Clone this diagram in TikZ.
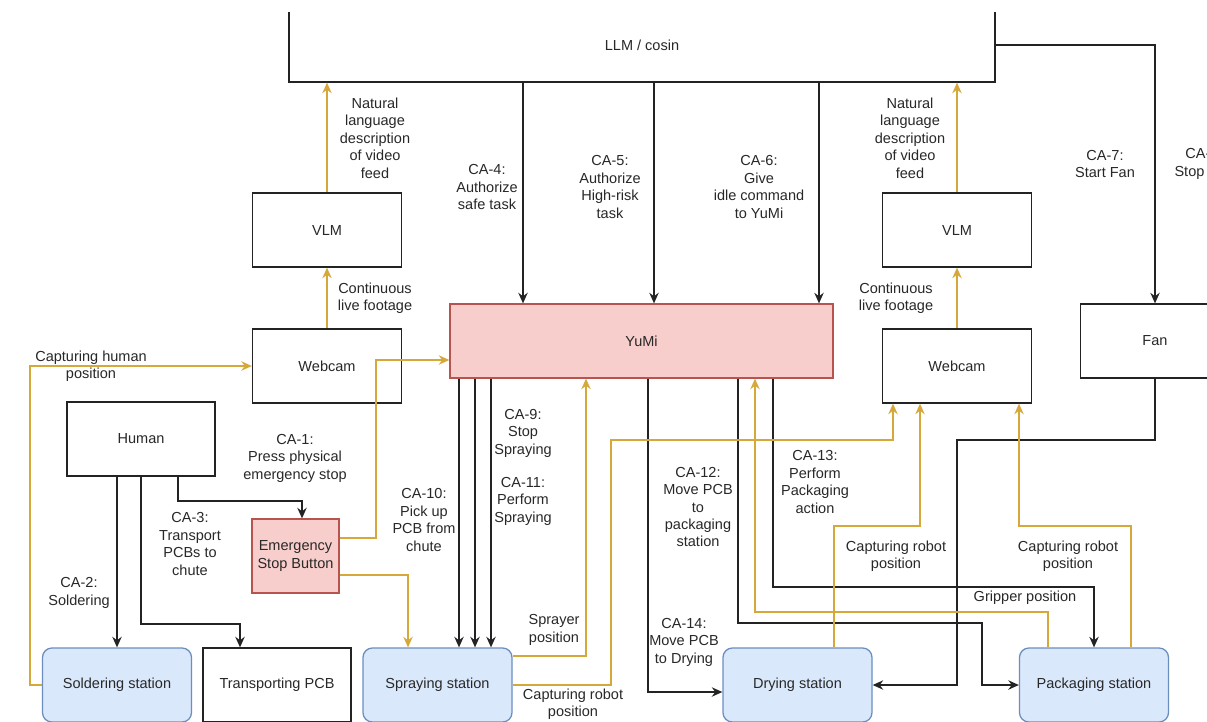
\documentclass[tikz,border=0pt]{standalone}
\usepackage{fontspec}
\setmainfont{Liberation Sans}
\usetikzlibrary{arrows.meta}
\definecolor{ln}{RGB}{35,35,35}
\definecolor{org}{RGB}{214,168,58}
\definecolor{pinkf}{HTML}{F8CECC}
\definecolor{pinkd}{HTML}{B85450}
\definecolor{bluef}{HTML}{DAE8FC}
\definecolor{blued}{HTML}{6C8EBF}
\definecolor{txt}{RGB}{40,40,40}
\begin{document}
\begin{tikzpicture}[x=0.03cm,y=-0.03cm,
  every node/.style={font=\fontsize{12.4}{14.9}\selectfont, text=txt},
  box/.style={draw=ln, line width=1.1pt, minimum width=4.47cm, minimum height=2.22cm, inner sep=0pt, fill=white},
  redbox/.style={box, fill=pinkf, draw=pinkd},
  station/.style={box, fill=bluef, draw=blued, rounded corners=8pt},
  lbl/.style={align=center, inner sep=0pt},
  blk/.style={draw=ln, line width=1.1pt, -{Stealth[length=9pt,width=8pt]}},
  ylw/.style={draw=org, line width=1.1pt, -{Stealth[length=9pt,width=8pt]}},
]
\useasboundingbox (0,0) rectangle (1207,721);
\fill[white] (0,0) rectangle (1207,721);
\clip (0,12) rectangle (1207,721);

% nodes
\node[box, minimum width=21.18cm] (llm) at (642,45) {LLM / cosin};
\node[box] (vlmL) at (327,230) {VLM};
\node[box] (camL) at (327,366) {Webcam};
\node[box] (vlmR) at (957,230) {VLM};
\node[box] (camR) at (957,366) {Webcam};
\node[redbox, minimum width=11.49cm] (yumi) at (641.5,341) {YuMi};
\node[box] (fan) at (1155,341) {Fan};
\node[box, minimum width=4.44cm] (human) at (141,439) {Human};
\node[redbox, minimum width=2.61cm, align=center] (estop) at (295.5,556) {Emergency\\Stop Button};
\node[station] (solder) at (117,685) {Soldering station};
\node[box, minimum width=4.44cm] (transp) at (277,685) {Transporting PCB};
\node[station] (spray) at (437.5,685) {Spraying station};
\node[station] (dry) at (797.5,685) {Drying station};
\node[station] (pack) at (1094,685) {Packaging station};

% black connectors
\draw[blk] (llm.south -| 523,0) -- (yumi.north -| 523,0);
\draw[blk] (llm.south -| 654,0) -- (yumi.north -| 654,0);
\draw[blk] (llm.south -| 819,0) -- (yumi.north -| 819,0);
\draw[blk] (llm.east) -| (fan.north);
\draw[blk] (human.south -| solder.north) -- (solder.north);
\draw[blk] (human.south) -- (141,624) -| (transp.north -| 240,0);
\draw[blk] (human.south -| 178,0) -- (178,501) -| (estop.north -| 302,0);
\draw[blk] (yumi.south -| 459,0) -- (spray.north -| 459,0);
\draw[blk] (yumi.south -| 475,0) -- (spray.north -| 475,0);
\draw[blk] (yumi.south -| 491,0) -- (spray.north -| 491,0);
\draw[blk] (yumi.south -| 648,0) |- (dry.west |- 0,692);
\draw[blk] (yumi.south -| 738,0) |- (982,623) |- (pack.west);
\draw[blk] (yumi.south -| 773,0) |- (pack.north |- 0,587) -- (pack.north);
\draw[blk] (fan.south) |- (957,440) |- (dry.east);

% yellow connectors
\draw[ylw] (vlmL.north) -- (llm.south -| vlmL.north);
\draw[ylw] (camL.north) -- (vlmL.south);
\draw[ylw] (vlmR.north) -- (llm.south -| vlmR.north);
\draw[ylw] (camR.north) -- (vlmR.south);
\draw[ylw] (solder.west) -- (30,685) |- (camL.west);
\draw[ylw] (estop.east |- 0,538) -- (376,538) |- (yumi.west |- 0,360);
\draw[ylw] (estop.east |- 0,575) -| (spray.north -| 408,0);
\draw[ylw] (spray.east |- 0,656) -| (yumi.south -| 586,0);
\draw[ylw] (spray.east) -| (611,440) -| (camR.south -| 893,0);
\draw[ylw] (pack.north -| 1048,0) |- (755,612) -- (yumi.south -| 755,0);
\draw[ylw] (dry.north -| 834,0) |- (920,526) -- (camR.south -| 920,0);
\draw[ylw] (pack.north -| 1131,0) |- (1019,526) -- (camR.south -| 1019,0);

% labels
\node[lbl] (l1) at (375,138) {Natural\\language\\description\\of video\\feed};
\node[lbl] (l2) at (375,298) {Continuous\\live footage};
\node[lbl] (l3) at (910,138) {Natural\\language\\description\\of video\\feed};
\node[lbl] (l4) at (896,298) {Continuous\\live footage};
\node[lbl] (l5) at (487,187) {CA-4:\\Authorize\\safe task};
\node[lbl] (l6) at (610,187) {CA-5:\\Authorize\\High-risk\\task};
\node[lbl] (l7) at (759,187) {CA-6:\\Give\\idle command\\to YuMi};
\node[lbl] (l8) at (1105,164) {CA-7:\\Start Fan};
\node[lbl] (l9) at (1204,164) {CA-8:\\Stop Fan};
\node[lbl] (l10) at (91,366) {Capturing human\\position};
\node[lbl] (l11) at (295,458) {CA-1:\\Press physical\\emergency stop};
\node[lbl] (l12) at (79,593) {CA-2:\\Soldering};
\node[lbl] (l13) at (190,544) {CA-3:\\Transport\\PCBs to\\chute};
\node[lbl] (l14) at (424,520) {CA-10:\\Pick up\\PCB from\\chute};
\node[lbl] (l15) at (523,433) {CA-9:\\Stop\\Spraying};
\node[lbl] (l16) at (523,501) {CA-11:\\Perform\\Spraying};
\node[lbl] (l17) at (698,507) {CA-12:\\Move PCB\\to\\packaging\\station};
\node[lbl] (l18) at (684,642) {CA-14:\\Move PCB\\to Drying};
\node[lbl] (l19) at (815,482) {CA-13:\\Perform\\Packaging\\action};
\node[lbl] (l20) at (554,630) {Sprayer\\position};
\node[lbl] (l21) at (573,704) {Capturing robot\\position};
\node[lbl] (l22) at (1025,598) {Gripper position};
\node[lbl] (l23) at (896,556) {Capturing robot\\position};
\node[lbl] (l24) at (1068,556) {Capturing robot\\position};
\end{tikzpicture}
\end{document}
